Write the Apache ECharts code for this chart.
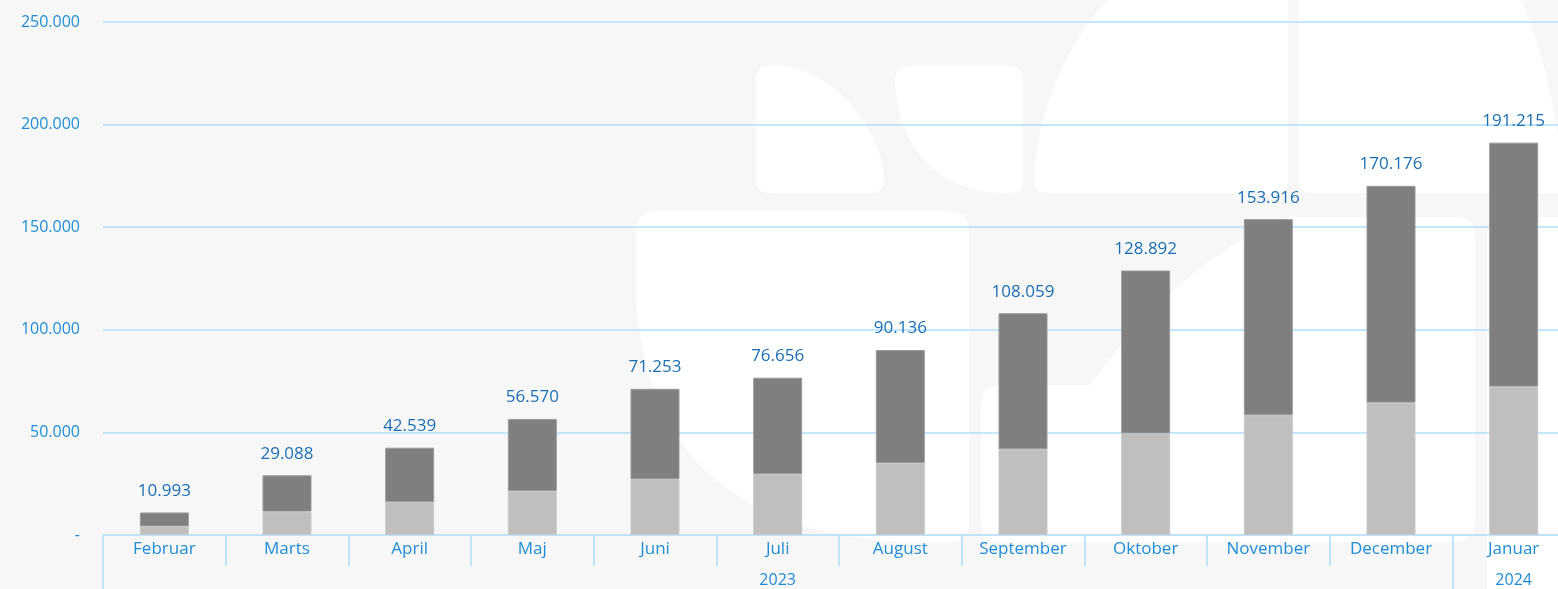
<!DOCTYPE html>
<html>
<head>
    <meta charset="utf-8">
</head>
<body style="margin:0;background:#f7f7f7;">

<div id="main" style="width: 1558px;height:589px;"></div>
<script src="https://cdn.jsdelivr.net/npm/echarts@6/dist/echarts.min.js"></script>
<script type="text/javascript">
    // maaneder og totaler (aflaest paa grafen)
    var months = ['Februar', 'Marts', 'April', 'Maj', 'Juni', 'Juli', 'August', 'September', 'Oktober', 'November', 'December', 'Januar'];
    var totals = [10993, 29088, 42539, 56570, 71253, 76656, 90136, 108059, 128892, 153916, 170176, 191215];
    var lowerPart = [4200, 11400, 16100, 21400, 27200, 29600, 35000, 41800, 49500, 58300, 64500, 72300];
    var years = ['2023', '2024'];
    var yearStart = [0, 11];
    var yearLabelAt = [5, 11];
    var yTicks = [0, 50000, 100000, 150000, 200000, 250000];

    var upperPart = totals.map(function (t, i) { return t - lowerPart[i]; });

    function fmt(v) {
        if (v === 0) return '-';
        return String(v).replace(/\B(?=(\d{3})+(?!\d))/g, '.');
    }

    var font = 'Open Sans';

    // vandmaerke i baggrunden
    var shapes = [
        'M756 80Q756 66 770 66L782 66C842 72 884 140 884 180Q884 193 871 193L770 193Q756 193 756 180Z',
        'M1023 80Q1023 66 1009 66L910 66Q895 66 895 80C897 150 940 190 1000 193L1010 193Q1023 193 1023 180Z',
        'M1034 180C1036 110 1068 40 1112 -5L1288 -5L1288 180Q1288 193 1275 193L1047 193Q1034 193 1034 180Z',
        'M1299 -5L1519 -5C1540 40 1556 100 1565 193L1312 193Q1299 193 1299 180Z',
        'M656 211L949 211Q969 211 969 231L969 522Q969 542 949 542L900 542C720 530 645 440 636 300L636 231Q636 211 656 211Z',
        'M981 405Q981 385 1001 385L1090 385C1130 330 1200 250 1290 217L1455 217Q1475 217 1475 237L1475 522Q1475 542 1455 542L1001 542Q981 542 981 522Z',
        'M1487 237Q1487 217 1507 217L1570 217L1570 589L1487 589Z'
    ];

    var option = {
        backgroundColor: '#f7f7f7',
        animation: false,
        grid: { left: 103, top: 22, width: 1472, bottom: 54, outerBoundsMode: 'none' },
        yAxis: {
            type: 'value',
            min: yTicks[0],
            max: yTicks[yTicks.length - 1],
            interval: 50000,
            axisLine: { show: false },
            axisTick: { show: false },
            axisLabel: { formatter: fmt, color: '#1f8dd6', fontFamily: font, fontSize: 16, margin: 23 },
            splitLine: { lineStyle: { color: '#c2e6fb', width: 2 } }
        },
        xAxis: [
            {
                type: 'category',
                data: months,
                position: 'bottom',
                axisLine: { lineStyle: { color: '#bfe4fa', width: 2 } },
                axisTick: { show: true, length: 31, lineStyle: { color: '#bfe4fa', width: 2 } },
                axisLabel: { color: '#1f8dd6', fontFamily: font, fontSize: 17, margin: 6, interval: 0 }
            },
            {
                type: 'category',
                data: months,
                position: 'bottom',
                offset: 31,
                axisLine: { show: false },
                axisTick: {
                    show: true, length: 30,
                    interval: function (i) { return yearStart.indexOf(i) >= 0; },
                    lineStyle: { color: '#bfe4fa', width: 2 }
                },
                axisLabel: {
                    color: '#1f8dd6', fontFamily: font, fontSize: 16, margin: 6,
                    interval: function (i) { return yearLabelAt.indexOf(i) >= 0; },
                    formatter: function (v, i) {
                        var k = yearLabelAt.indexOf(i);
                        return k >= 0 ? years[k] : '';
                    }
                }
            }
        ],
        series: [
            {
                type: 'custom',
                z: -5,
                silent: true,
                data: [0],
                renderItem: function () {
                    return {
                        type: 'group',
                        children: shapes.map(function (d) {
                            return { type: 'path', shape: { pathData: d }, style: { fill: '#ffffff' } };
                        })
                    };
                }
            },
            {
                type: 'bar',
                stack: 'total',
                barWidth: 49,
                data: lowerPart,
                itemStyle: { color: '#bfbfbf', borderColor: '#c9c9c9', borderWidth: 1 }
            },
            {
                type: 'bar',
                stack: 'total',
                barWidth: 49,
                data: upperPart,
                itemStyle: { color: '#7f7f7f', borderColor: '#9a9a9a', borderWidth: 1 },
                label: {
                    show: true,
                    position: 'top',
                    distance: 13,
                    color: '#1a6fb3',
                    fontFamily: font,
                    fontSize: 17,
                    formatter: function (p) { return fmt(totals[p.dataIndex]); }
                }
            }
        ]
    };

    var myChart = echarts.init(document.getElementById('main'));
    myChart.setOption(option);
</script>
</body>
</html>
